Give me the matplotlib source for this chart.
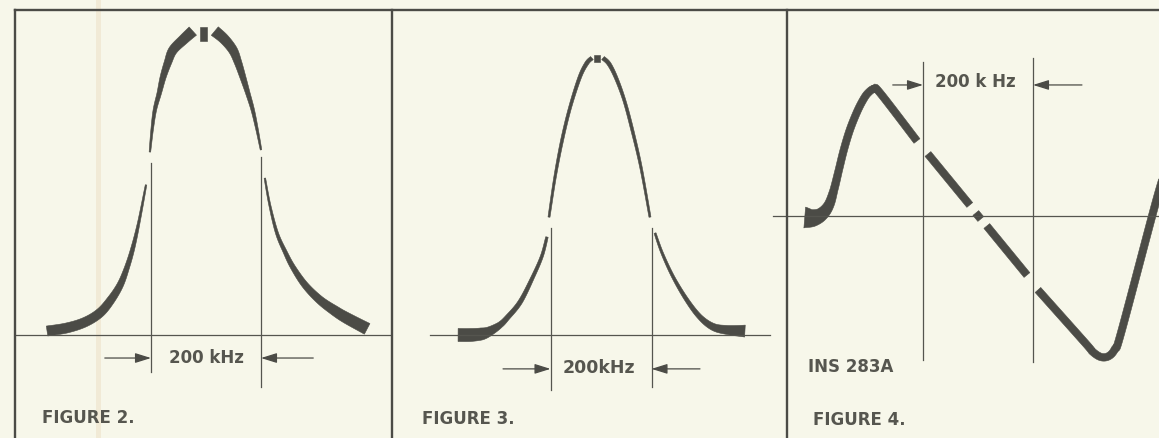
import numpy as np
import matplotlib
matplotlib.use("Agg")
import matplotlib.pyplot as plt
from matplotlib.lines import Line2D
from matplotlib.patches import Rectangle

W, H = 1159, 438
PAPER = "#f7f7ea"
INK = "#4b4b46"
LINE = "#55554f"
TEXT = "#56564f"

# ---- FIGURE 2: wide response, offset from centre (kHz) vs relative level
fig2_ll_khz = [-289, -253, -220, -193, -173, -156, -144, -133, -122, -109]
fig2_ll_amp = [0.013, 0.023, 0.042, 0.072, 0.114, 0.163, 0.218, 0.283, 0.368, 0.489]
fig2_lu_khz = [-102, -98, -93, -85, -78, -69, -60, -40, -24]
fig2_lu_amp = [0.596, 0.668, 0.733, 0.788, 0.840, 0.889, 0.928, 0.964, 0.990]
fig2_dot_khz = [-4.5, -4.5]
fig2_dot_amp = [0.958, 1.003]
fig2_ru_khz = [16, 33, 49, 58, 67, 76, 85, 93, 100]
fig2_ru_amp = [0.990, 0.964, 0.928, 0.889, 0.840, 0.788, 0.733, 0.668, 0.603]
fig2_rl_khz = [107, 116, 129, 144, 158, 180, 207, 235, 256, 293]
fig2_rl_amp = [0.511, 0.423, 0.332, 0.270, 0.221, 0.163, 0.114, 0.078, 0.055, 0.020]

# ---- FIGURE 3: narrower response
fig3_ll_khz = [-283, -259, -236, -220, -200, -186, -160, -135, -117, -107]
fig3_ll_amp = [0.0, 0.0, 0.004, 0.014, 0.036, 0.061, 0.118, 0.207, 0.282, 0.350]
fig3_lu_khz = [-103, -91, -77, -61, -42, -28, -18]
fig3_lu_amp = [0.421, 0.564, 0.696, 0.814, 0.921, 0.971, 0.989]
fig3_dot_khz = [-7, -7]
fig3_dot_amp = [0.975, 1.0]
fig3_ru_khz = [4, 16, 30, 46, 61, 79, 97]
fig3_ru_amp = [0.989, 0.968, 0.918, 0.839, 0.739, 0.600, 0.421]
fig3_rl_khz = [107, 121, 143, 170, 196, 222, 250, 285]
fig3_rl_amp = [0.364, 0.293, 0.207, 0.125, 0.064, 0.029, 0.018, 0.014]

# ---- FIGURE 4: discriminator S-curve
fig4_a_khz = [-315, -300, -284, -271, -262, -253, -244, -233, -220, -209, -200, -189, -178, -111]
fig4_a_amp = [-0.012, -0.015, 0.015, 0.085, 0.2, 0.354, 0.508, 0.662, 0.8, 0.892, 0.946, 0.977, 0.946, 0.577]
fig4_b_khz = [-91, -15]
fig4_b_amp = [0.477, 0.085]
fig4_c_khz = [-4, 5]
fig4_c_amp = [0.023, -0.023]
fig4_d_khz = [16, 89]
fig4_d_amp = [-0.077, -0.454]
fig4_e_khz = [109, 195, 209, 224, 238, 249, 260, 318, 335]
fig4_e_amp = [-0.569, -0.977, -1.046, -1.085, -1.077, -1.023, -0.9, 0.023, 0.277]

# stroke widths (px) of the traces
w2_ll = [10, 10, 9.5, 9, 8, 6.5, 5, 4, 2.5, 1.5]
w2_lu = [1.5, 2.5, 3.5, 4.5, 6, 7.5, 9, 10, 11]
w2_ru = [11, 10, 9, 7.5, 6, 4.5, 3.5, 2.5, 1.5]
w2_rl = [1.5, 2, 3, 4, 5, 6.5, 8, 10, 11, 12]
w3_ll = [13, 13, 12, 9, 6, 5, 4.5, 3.5, 3, 2.5]
w3_lu = [2, 2.5, 3, 3, 3.5, 4, 4]
w3_ru = [4, 4, 3.5, 3, 3, 2.5, 2]
w3_rl = [2, 2.5, 3, 4, 5, 7, 9, 12]
w4_a = [21, 17, 13, 10, 8, 7.5, 7.5, 7.5, 7.5, 7.5, 7.5, 7.5, 7.5, 7.5]


def panel(x0, x1, cx, kx, y0, ky):
    ax = fig.add_axes([x0 / W, 0, (x1 - x0) / W, 1])
    ax.set_xlim((x0 - cx) / kx, (x1 - cx) / kx)
    ax.set_ylim((y0 - H) / ky, y0 / ky)
    ax.axis("off")
    return ax


def smooth(pts, ws, steps=12):
    # Catmull-Rom pass through the read points (drawing only)
    if len(pts) < 3:
        return pts, ws
    p = np.vstack([pts[0], pts, pts[-1]])
    out, wo = [], []
    t = np.linspace(0, 1, steps, endpoint=False)[:, None]
    for i in range(1, len(p) - 2):
        p0, p1, p2, p3 = p[i - 1], p[i], p[i + 1], p[i + 2]
        seg = 0.5 * (2 * p1 + (-p0 + p2) * t + (2 * p0 - 5 * p1 + 4 * p2 - p3) * t ** 2
                     + (-p0 + 3 * p1 - 3 * p2 + p3) * t ** 3)
        out.append(seg)
        wo.append(ws[i - 1] + (ws[i] - ws[i - 1]) * t[:, 0])
    out.append(pts[-1:])
    wo.append(ws[-1:])
    return np.vstack(out), np.concatenate(wo)


def stroke(ax, xs, ys, ws, clip=True):
    pts = ax.transData.transform(np.column_stack([xs, ys]))
    ws = np.broadcast_to(np.asarray(ws, float), (len(xs),))
    pts, ws = smooth(pts, ws)
    d = np.gradient(pts, axis=0)
    n = np.column_stack([-d[:, 1], d[:, 0]])
    n /= np.linalg.norm(n, axis=1)[:, None]
    w = ws[:, None] / 2
    poly = np.vstack([pts + n * w, (pts - n * w)[::-1]])
    poly = ax.transData.inverted().transform(poly)
    ax.fill(poly[:, 0], poly[:, 1], color=INK, lw=0.4, ec=INK, clip_on=clip)


def marker_arrows(ax, y, left_tail, right_tail):
    for tail, tip in [(left_tail, -100), (right_tail, 100)]:
        ax.annotate("", xy=(tip, y), xytext=(tail, y),
                    arrowprops=dict(arrowstyle="-|>,head_length=0.8,head_width=0.25",
                                    color=INK, lw=0.9, shrinkA=0, shrinkB=0,
                                    mutation_scale=12))


def label(ax, x, y, s, ha="left", size=12):
    ax.text(x, y, s, ha=ha, va="center", fontsize=size, color=TEXT,
            fontweight="bold")


fig = plt.figure(figsize=(W / 100, H / 100), dpi=100, facecolor=PAPER)
fig.add_artist(Rectangle((96 / W, 0), 5 / W, 1, transform=fig.transFigure,
                         color="#f1ead6", lw=0, zorder=-1))

# ---------------- FIGURE 2
ax = panel(15, 392, 206, 0.55, 335, 307)
ax.axhline(0, color=LINE, lw=0.9)
ax.plot([-100, -100], [0.56, -0.12], color=LINE, lw=0.9)
ax.plot([100, 100], [0.58, -0.17], color=LINE, lw=0.9)
stroke(ax, fig2_ll_khz, fig2_ll_amp, w2_ll)
stroke(ax, fig2_lu_khz, fig2_lu_amp, w2_lu)
stroke(ax, fig2_dot_khz, fig2_dot_amp, 7)
stroke(ax, fig2_ru_khz, fig2_ru_amp, w2_ru)
stroke(ax, fig2_rl_khz, fig2_rl_amp, w2_rl)
marker_arrows(ax, -0.075, -184, 195)
label(ax, 0, -0.075, "200 kHz", ha="center")
label(ax, -298, -0.27, "FIGURE 2.")

# ---------------- FIGURE 3
ax = panel(393, 787, 601, 0.505, 335, 280)
ax.plot([-339, 335], [0, 0], color=LINE, lw=0.9)
ax.plot([-100, -100], [0.382, -0.196], color=LINE, lw=0.9)
ax.plot([100, 100], [0.382, -0.186], color=LINE, lw=0.9)
stroke(ax, fig3_ll_khz, fig3_ll_amp, w3_ll)
stroke(ax, fig3_lu_khz, fig3_lu_amp, w3_lu)
stroke(ax, fig3_dot_khz, fig3_dot_amp, 6)
stroke(ax, fig3_ru_khz, fig3_ru_amp, w3_ru)
stroke(ax, fig3_rl_khz, fig3_rl_amp, w3_rl)
marker_arrows(ax, -0.121, -194, 196)
label(ax, -4, -0.118, "200kHz", ha="center", size=12.5)
label(ax, -354, -0.30, "FIGURE 3.")

# ---------------- FIGURE 4
ax = panel(787, 1159, 978, 0.55, 216, 130)
ax.plot([-373, 329], [0, 0], color=LINE, lw=0.9, clip_on=False)
ax.plot([-100, -100], [1.185, -1.108], color=LINE, lw=0.9)
ax.plot([100, 100], [1.215, -1.123], color=LINE, lw=0.9)
stroke(ax, fig4_a_khz, fig4_a_amp, w4_a)
stroke(ax, fig4_b_khz, fig4_b_amp, 7.5)
stroke(ax, fig4_c_khz, fig4_c_amp, 7.5)
stroke(ax, fig4_d_khz, fig4_d_amp, 7.5)
stroke(ax, fig4_e_khz, fig4_e_amp, 7.5)
marker_arrows(ax, 1.008, -155, 189)
label(ax, -4, 1.031, "200 k Hz", ha="center")
label(ax, -309, -1.162, "INS 283A")
label(ax, -300, -1.569, "FIGURE 4.")

# frame of the plate
for (xa, ya), (xb, yb) in [((15, 10), (1159, 10)), ((15, 10), (15, 438)),
                           ((392, 10), (392, 438)), ((787, 10), (787, 438))]:
    fig.add_artist(Line2D([xa / W, xb / W], [1 - ya / H, 1 - yb / H],
                          transform=fig.transFigure, color=INK, lw=1.7))

fig.savefig("out.png", dpi=100, facecolor=PAPER)
